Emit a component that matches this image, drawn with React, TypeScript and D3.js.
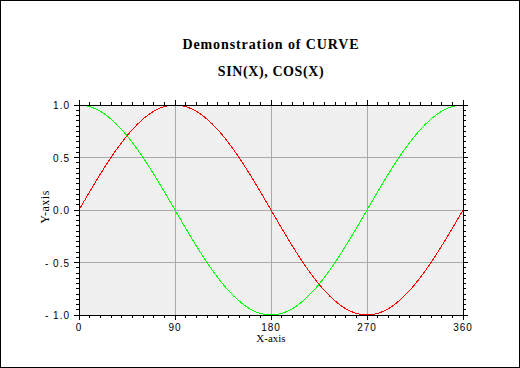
import React from 'react';
import * as d3 from 'd3';

// angle in degrees, every 10
const angles = [0, 10, 20, 30, 40, 50, 60, 70, 80, 90, 100, 110, 120, 130, 140, 150, 160, 170, 180,
  190, 200, 210, 220, 230, 240, 250, 260, 270, 280, 290, 300, 310, 320, 330, 340, 350, 360];
const sinValues = [0, 0.174, 0.342, 0.5, 0.643, 0.766, 0.866, 0.94, 0.985, 1, 0.985, 0.94, 0.866, 0.766, 0.643, 0.5, 0.342, 0.174, 0,
  -0.174, -0.342, -0.5, -0.643, -0.766, -0.866, -0.94, -0.985, -1, -0.985, -0.94, -0.866, -0.766, -0.643, -0.5, -0.342, -0.174, 0];
const cosValues = [1, 0.985, 0.94, 0.866, 0.766, 0.643, 0.5, 0.342, 0.174, 0, -0.174, -0.342, -0.5, -0.643, -0.766, -0.866, -0.94, -0.985, -1,
  -0.985, -0.94, -0.866, -0.766, -0.643, -0.5, -0.342, -0.174, 0, 0.174, 0.342, 0.5, 0.643, 0.766, 0.866, 0.94, 0.985, 1];

const xTicks = [0, 90, 180, 270, 360];
const yTicks = [-1.0, -0.5, 0.0, 0.5, 1.0];
const titleLines = ['Demonstration of CURVE', 'SIN(X), COS(X)'];

export default function App() {
  const width = 520, height = 368;
  const margin = { top: 105, right: 57, bottom: 53, left: 79 };
  const x = d3.scaleLinear().domain([0, 360]).range([margin.left, width - margin.right]);
  const y = d3.scaleLinear().domain([-1, 1]).range([height - margin.bottom, margin.top]);

  const line = d3.line<number>()
    .x((d, i) => x(angles[i]))
    .y(d => y(d))
    .curve(d3.curveCatmullRom);

  const xMinor = d3.range(0, 361, 10);
  const yMinor = d3.range(-20, 21).map(v => v * 0.05);
  const isMajorX = (v: number) => v % 90 === 0;
  const isMajorY = (v: number) => Math.abs(v * 2 - Math.round(v * 2)) < 1e-6;

  const x0 = x(0), x1 = x(360), y0 = y(-1), y1 = y(1);
  const sans = 'Liberation Sans, Arial, sans-serif';
  const serif = 'Liberation Serif, Times New Roman, serif';

  return (
    <div style={{ position: 'absolute', left: 0, top: 0 }}>
      <svg width={width} height={height} style={{ display: 'block', background: '#fff' }}>
        <rect x={0.5} y={0.5} width={width - 1} height={height - 1} fill="#fff" stroke="#000" />

        {titleLines.map((t, i) => (
          <text key={t} x={(x0 + x1) / 2} y={49 + i * 27} textAnchor="middle"
            fontFamily={serif} fontWeight="bold" fontSize={14} letterSpacing={i === 0 ? 0.9 : 0.6}>{t}</text>
        ))}

        <rect x={x0} y={y1} width={x1 - x0} height={y0 - y1} fill="#f0f0f0" />

        {/* grid */}
        <g stroke="#aaa" shapeRendering="crispEdges">
          {xTicks.slice(1, -1).map(v => (
            <line key={'gx' + v} x1={x(v)} x2={x(v)} y1={y1} y2={y0} />
          ))}
          {yTicks.slice(1, -1).map(v => (
            <line key={'gy' + v} x1={x0} x2={x1} y1={y(v)} y2={y(v)} />
          ))}
        </g>

        {/* curves */}
        <path d={line(sinValues) || ''} fill="none" stroke="#ff0000" strokeWidth={1} shapeRendering="crispEdges" />
        <path d={line(cosValues) || ''} fill="none" stroke="#00ff00" strokeWidth={1} shapeRendering="crispEdges" />

        {/* frame + ticks */}
        <g stroke="#000" shapeRendering="crispEdges">
          <rect x={x0} y={y1} width={x1 - x0} height={y0 - y1} fill="none" />
          {xMinor.map(v => {
            const len = isMajorX(v) ? 5 : 3;
            return (
              <g key={'tx' + v}>
                <line x1={x(v)} x2={x(v)} y1={y0} y2={y0 + len} />
                <line x1={x(v)} x2={x(v)} y1={y1} y2={y1 - len} />
              </g>
            );
          })}
          {yMinor.map((v, i) => {
            const len = isMajorY(v) ? 5 : 3;
            return (
              <g key={'ty' + i}>
                <line x1={x0} x2={x0 - len} y1={y(v)} y2={y(v)} />
                <line x1={x1} x2={x1 + len} y1={y(v)} y2={y(v)} />
              </g>
            );
          })}
        </g>

        {/* tick labels */}
        {xTicks.map(v => (
          <text key={'lx' + v} x={x(v)} y={y0 + 16} textAnchor="middle"
            fontFamily={sans} fontSize={10} letterSpacing={1}>{v}</text>
        ))}
        {yTicks.map(v => (
          <text key={'ly' + v} x={x0 - 9} y={y(v) + 4} textAnchor="end"
            fontFamily={sans} fontSize={10} letterSpacing={1}>{(v < 0 ? '- ' : '') + Math.abs(v).toFixed(1)}</text>
        ))}

        <text x={(x0 + x1) / 2} y={y0 + 27} textAnchor="middle" fontFamily={serif} fontSize={11}>X-axis</text>
        <text transform={`translate(49,${(y0 + y1) / 2 - 3}) rotate(-90)`} textAnchor="middle"
          fontFamily={serif} fontSize={12} letterSpacing={0.5}>Y-axis</text>
      </svg>
    </div>
  );
}
